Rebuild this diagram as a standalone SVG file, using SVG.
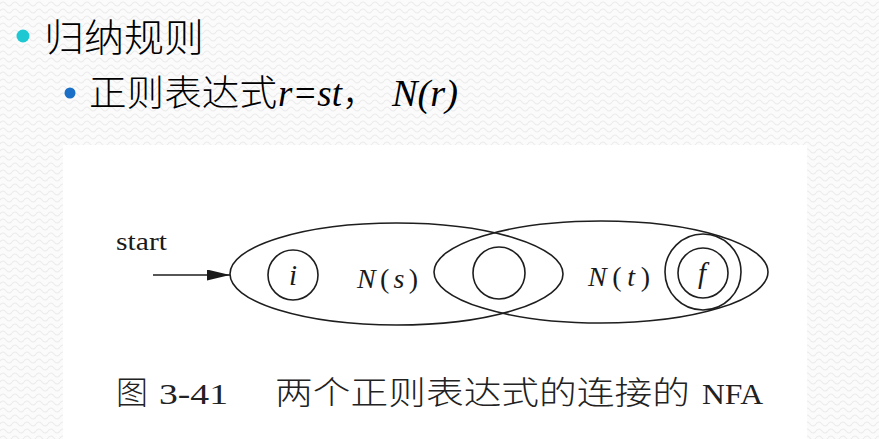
<svg xmlns="http://www.w3.org/2000/svg" width="879" height="439" viewBox="0 0 879 439">
<defs>
<pattern id="tex" width="12" height="7" patternUnits="userSpaceOnUse">
<rect width="12" height="7" fill="#fbfbfb"/>
<path d="M0 4 Q3 0 6 4 T12 4" fill="none" stroke="#ececec" stroke-width="1.1"/>
</pattern>
<marker id="arr" markerWidth="23" markerHeight="11" refX="23" refY="5.5" orient="auto" markerUnits="userSpaceOnUse">
<path d="M0 0 L23 5.5 L0 11 Z" fill="#1a1a1a"/>
</marker>
<style>
.ln{fill:none;stroke:#1e1e1e;stroke-width:1.6}
.lbl{font-family:"Liberation Serif","DejaVu Serif",serif;font-style:italic;font-size:28px;fill:#1a1a1a}
.st{font-size:29px}
.up{font-style:normal}
.cap{font-family:"Liberation Serif","Noto Sans CJK SC",serif;font-size:30px;fill:#222}
.capc{font-family:"Noto Sans CJK SC",sans-serif;font-size:32px;fill:#222;font-weight:300}
.ttl{font-family:"Noto Sans CJK SC",sans-serif;fill:#000;font-weight:300}
.mth{font-family:"Liberation Serif","DejaVu Serif",serif;font-style:italic;font-size:37px;fill:#000}
</style>
</defs>
<rect width="879" height="439" fill="url(#tex)"/>
<rect x="63" y="145" width="744" height="294" fill="#fff"/>

<g id="title">
<circle cx="23" cy="36" r="6.5" fill="#1ec8d2"/>
<text class="ttl" x="44" y="51" font-size="38" textLength="160" lengthAdjust="spacingAndGlyphs">归纳规则</text>
</g>
<g id="subtitle">
<circle cx="70" cy="93" r="5.5" fill="#1a6fc6"/>
<text class="ttl" x="89" y="106" font-size="36" textLength="188" lengthAdjust="spacingAndGlyphs">正则表达式</text>
<text class="mth" x="278" y="106" textLength="64" lengthAdjust="spacingAndGlyphs">r=st</text>
<text class="ttl" x="342" y="106" font-size="36">，</text>
<text class="mth" x="392" y="106" textLength="66" lengthAdjust="spacingAndGlyphs">N(r)</text>
</g>

<g id="Ns">
<ellipse class="ln" cx="396.5" cy="274" rx="166.5" ry="51"/>
<text class="lbl" x="357" y="288" textLength="61" lengthAdjust="spacing">N<tspan class="up">(</tspan>s<tspan class="up">)</tspan></text>
</g>
<g id="Nt">
<ellipse class="ln" cx="601" cy="272" rx="167" ry="51"/>
<text class="lbl" x="588" y="286" textLength="62" lengthAdjust="spacing">N<tspan class="up">(</tspan>t<tspan class="up">)</tspan></text>
</g>
<g id="state-i">
<circle class="ln" cx="293" cy="275" r="25"/>
<text class="lbl st" x="293" y="285" text-anchor="middle">i</text>
</g>
<g id="state-mid">
<circle class="ln" cx="499" cy="273" r="26"/>
</g>
<g id="state-f">
<circle class="ln" cx="703" cy="272" r="38"/>
<circle class="ln" cx="703" cy="273" r="25"/>
<text class="lbl st" x="702" y="283" text-anchor="middle">f</text>
</g>

<g id="connectors">
<text x="116" y="250" font-family="Liberation Serif, serif" font-size="26" fill="#1a1a1a" textLength="51" lengthAdjust="spacingAndGlyphs">start</text>
<line class="ln" x1="153" y1="275" x2="230" y2="275" marker-end="url(#arr)"/>
</g>

<g id="caption">
<text class="capc" x="116" y="404">图</text>
<text class="cap" x="159" y="404" textLength="69" lengthAdjust="spacingAndGlyphs">3-41</text>
<text class="capc" x="275" y="404" textLength="415" lengthAdjust="spacingAndGlyphs">两个正则表达式的连接的</text>
<text class="cap" x="702" y="404" textLength="61" lengthAdjust="spacingAndGlyphs">NFA</text>
</g>
</svg>
